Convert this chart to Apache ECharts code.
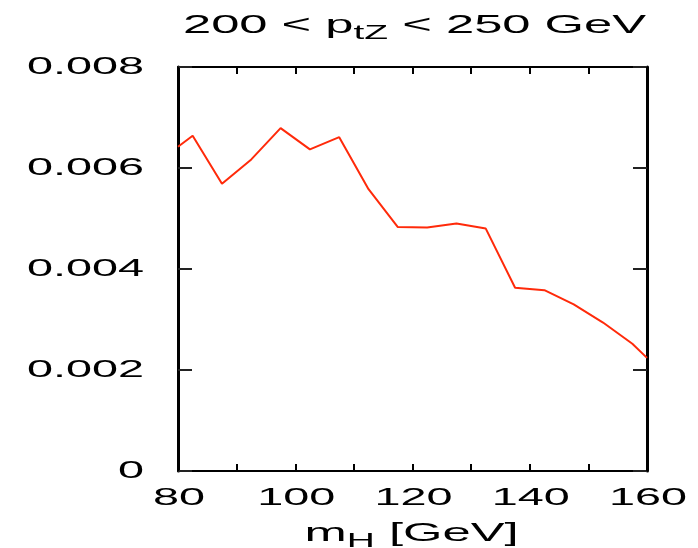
<!DOCTYPE html>
<html><head><meta charset="utf-8">
<script src="https://cdn.jsdelivr.net/npm/echarts@6/dist/echarts.min.js"></script>
<style>html,body{margin:0;padding:0;background:#fff}#c{width:698px;height:548px}</style>
</head><body><div id="c"></div>
<script>
const massH = [80, 82.5, 87.5, 92.5, 97.5, 102.5, 107.5, 112.5, 117.5, 122.5, 127.5, 132.5, 137.5, 142.5, 147.5, 152.5, 157.5, 160];
const sigma = [0.00642, 0.00664, 0.00569, 0.00617, 0.00679, 0.00637, 0.00661, 0.00558, 0.00483, 0.00482, 0.00490, 0.00480, 0.00363, 0.00358, 0.00330, 0.00294, 0.00252, 0.00224];
const xTicks = [80, 100, 120, 140, 160];
const xTickLabels = ['80', '100', '120', '140', '160'];
const yTicks = [0, 0.002, 0.004, 0.006, 0.008];
const yTickLabels = ['0', '0.002', '0.004', '0.006', '0.008'];
const titleText = '200 < p{sub|tZ} < 250 GeV';
const xAxisName = 'm{sub|H} [GeV]';

const FONT = '"Liberation Sans", Arial, Helvetica, sans-serif';
const SX = 1.95;
const chart = echarts.init(document.getElementById('c'), null, {renderer: 'canvas'});

function xAx(pos) {
  return {type: 'value', min: 80, max: 160, interval: 10, position: pos,
    axisLine: {show: true, onZero: false, lineStyle: {color: '#000', width: 2}},
    axisTick: {show: true, inside: true, length: 7, lineStyle: {color: '#000', width: 2}},
    axisLabel: {show: false}, splitLine: {show: false}};
}
function yAx(pos) {
  return {type: 'value', min: 0, max: 0.008, interval: 0.002, position: pos,
    axisLine: {show: true, onZero: false, lineStyle: {color: '#000', width: 3}},
    axisTick: {show: true, inside: true, length: 14, lineStyle: {color: '#222', width: 2}},
    axisLabel: {show: false}, splitLine: {show: false}};
}
chart.setOption({
  animation: false,
  grid: {left: 178, right: 51, top: 67, bottom: 77},
  xAxis: [xAx('bottom'), xAx('top')],
  yAxis: [yAx('left'), yAx('right')],
  series: [{type: 'line', data: massH.map((m, i) => [m, sigma[i]]), showSymbol: false,
    lineStyle: {color: '#ff2a0a', width: 2}, clip: true}]
});

const g = [];
function txt(x, y, text, size, align, vAlign, rich) {
  return {type: 'text', x: x, y: y, scaleX: SX, originX: 0, originY: 0, silent: true,
    style: {text: text, fontSize: size, fontFamily: FONT, fill: '#000',
      align: align, textAlign: align, verticalAlign: vAlign, textVerticalAlign: vAlign, rich: rich}};
}
xTicks.forEach((v, i) => {
  const p = chart.convertToPixel({xAxisIndex: 0, yAxisIndex: 0}, [v, 0]);
  g.push(txt(p[0] + 1, p[1] + 27, xTickLabels[i], 24, 'center', 'middle'));
});
yTicks.forEach((v, i) => {
  const p = chart.convertToPixel({xAxisIndex: 0, yAxisIndex: 0}, [80, v]);
  g.push(txt(p[0] - 34, p[1] + 0.5, yTickLabels[i], 24, 'right', 'middle'));
});
const c0 = chart.convertToPixel({xAxisIndex: 0, yAxisIndex: 0}, [120, 0]);
g.push(txt(c0[0] + 2, 26, titleText, 26, 'center', 'middle', {sub: {fontSize: 20, fontFamily: FONT, padding: [14, 0, 0, 0]}}));
g.push(txt(c0[0] - 1, 534, xAxisName, 26, 'center', 'middle', {sub: {fontSize: 20, fontFamily: FONT, padding: [14, 0, 0, 0]}}));
chart.setOption({graphic: {elements: g}});
</script>
</body></html>
